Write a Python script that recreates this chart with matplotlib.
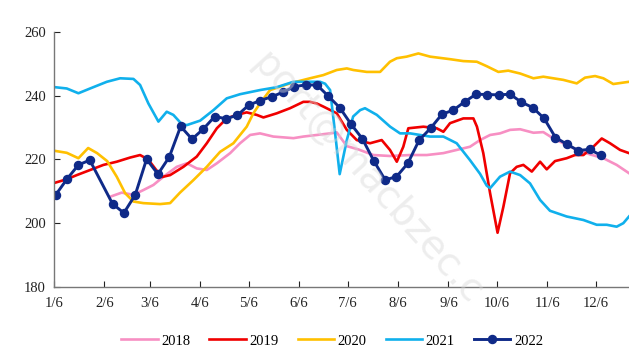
import matplotlib.pyplot as plt

# x positions are day-of-year; ticks mark the 6th of every month
month_days = [6, 37, 65, 96, 126, 157, 187, 218, 249, 279, 310, 340]
month_labels = ["1/6", "2/6", "3/6", "4/6", "5/6", "6/6",
                "7/6", "8/6", "9/6", "10/6", "11/6", "12/6"]

days_2018 = [40.5, 47.7, 54.9, 61.0, 67.2, 73.4, 81.6, 87.8, 93.9, 100.1,
             106.3, 114.5, 120.6, 126.8, 132.9, 141.1, 153.5, 159.6, 167.9, 176.1,
             180.2, 186.4, 193.3, 202.8, 213.0, 225.4, 235.7, 245.9, 254.1, 262.3,
             268.5, 274.7, 280.8, 287.0, 293.2, 301.4, 307.5, 313.7, 319.8, 328.1,
             336.3, 344.5, 352.7, 360.3]
vals_2018 = [208.3, 209.6, 208.9, 210.4, 212.0, 214.6, 217.7, 218.8, 217.2, 216.7,
             218.8, 222.0, 225.1, 227.7, 228.2, 227.2, 226.7, 227.2, 227.7, 228.2,
             228.5, 224.2, 223.2, 221.4, 221.1, 221.4, 221.4, 222.0, 223.0, 224.0,
             226.1, 227.7, 228.2, 229.3, 229.5, 228.4, 228.6, 226.6, 225.1, 223.1,
             221.6, 220.4, 218.3, 215.7]

days_2019 = [6.6, 13.8, 20.0, 28.2, 36.4, 44.6, 52.8, 59.0, 64.0, 68.8,
             72.5, 77.5, 85.7, 93.9, 100.1, 106.3, 112.4, 118.6, 124.7, 130.9,
             135.0, 143.2, 151.4, 159.6, 163.7, 167.8, 172.0, 180.2, 186.4, 192.5,
             200.7, 207.9, 213.0, 217.2, 221.2, 224.3, 233.6, 241.8, 245.9, 250.0,
             258.2, 264.4, 266.6, 270.5, 274.7, 279.3, 282.9, 287.0, 291.1, 295.2,
             300.4, 305.5, 309.6, 314.7, 321.9, 327.0, 332.2, 338.3, 343.5, 348.6,
             354.8, 360.3]
vals_2019 = [212.7, 213.8, 215.1, 216.7, 218.3, 219.3, 220.6, 221.4, 220.0, 216.8,
             214.5, 215.1, 217.7, 220.9, 225.1, 229.8, 232.9, 234.0, 234.8, 234.0,
             233.2, 234.5, 236.1, 238.1, 238.1, 237.6, 236.6, 234.5, 229.3, 226.1,
             225.1, 226.1, 223.0, 219.3, 224.0, 229.8, 230.3, 229.8, 228.7, 231.4,
             232.9, 232.9, 230.3, 222.0, 209.4, 197.0, 205.2, 215.7, 217.7, 218.3,
             216.2, 219.3, 216.9, 219.5, 220.4, 221.4, 221.4, 224.0, 226.6, 225.1,
             223.0, 222.0]

days_2020 = [6.6, 13.8, 21.0, 27.0, 32.5, 38.7, 44.6, 49.8, 54.9, 61.0,
             71.3, 77.5, 83.6, 91.8, 100.1, 108.3, 116.5, 124.7, 128.8, 132.9,
             139.1, 151.4, 163.7, 171.9, 180.2, 186.4, 190.4, 198.7, 206.9, 213.0,
             217.2, 223.3, 230.5, 237.7, 250.0, 258.2, 266.5, 272.6, 279.8, 285.9,
             293.2, 301.4, 307.5, 319.8, 328.1, 333.2, 339.4, 344.5, 350.6, 360.3]
vals_2020 = [222.7, 222.1, 220.4, 223.6, 222.0, 219.5, 214.6, 209.4, 206.8, 206.3,
             206.0, 206.3, 209.6, 213.5, 217.7, 222.4, 225.1, 230.3, 234.5, 237.6,
             241.8, 243.9, 245.5, 246.5, 248.1, 248.6, 248.1, 247.5, 247.5, 250.7,
             251.8, 252.3, 253.3, 252.3, 251.5, 250.9, 250.7, 249.3, 247.5, 247.9,
             247.0, 245.5, 246.0, 245.0, 243.9, 245.7, 246.2, 245.5, 243.7, 244.4]

days_2021 = [6.6, 13.8, 21.0, 28.2, 38.5, 46.7, 54.9, 59.0, 64.1, 70.3,
             75.4, 79.5, 84.7, 87.8, 96.0, 104.2, 112.4, 120.6, 132.9, 143.2,
             153.5, 159.6, 169.9, 173.0, 176.1, 179.2, 182.0, 186.4, 190.3, 194.6,
             197.6, 204.9, 213.1, 219.2, 225.4, 237.7, 245.9, 254.1, 262.3, 268.5,
             272.6, 274.7, 280.8, 287.0, 293.2, 299.3, 305.5, 311.6, 321.9, 332.2,
             340.4, 346.6, 352.7, 356.8, 360.3]
vals_2021 = [242.7, 242.3, 240.8, 242.3, 244.4, 245.5, 245.3, 243.4, 237.6, 231.9,
             235.0, 234.0, 231.1, 230.8, 232.2, 235.5, 239.2, 240.5, 241.8, 242.7,
             244.4, 244.4, 244.4, 243.8, 241.8, 228.2, 215.4, 226.1, 233.5, 235.5,
             236.1, 234.0, 230.3, 228.2, 228.2, 227.2, 227.2, 225.1, 219.8, 215.5,
             211.8, 211.0, 214.6, 216.2, 215.1, 212.5, 207.3, 203.9, 202.1, 201.0,
             199.5, 199.5, 198.9, 200.0, 202.1]

# weekly prices for 2022 (no quote in the Spring Festival week)
days_2022 = [7, 14, 21, 28, 42, 49, 56, 63, 70, 77,
             84, 91, 98, 105, 112, 119, 126, 133, 140, 147,
             154, 161, 168, 175, 182, 189, 196, 203, 210, 217,
             224, 231, 238, 245, 252, 259, 266, 273, 280, 287,
             294, 301, 308, 315, 322, 329, 336, 343]
vals_2022 = [208.9, 213.9, 218.3, 219.8, 206.1, 203.2, 208.9, 220.1, 215.4, 220.8,
             230.4, 226.4, 229.6, 233.5, 232.8, 233.9, 237.1, 238.5, 239.7, 241.1,
             242.9, 243.4, 243.4, 239.9, 236.3, 231.1, 226.5, 219.6, 213.6, 214.6,
             218.8, 226.1, 229.8, 234.2, 235.5, 238.1, 240.5, 240.4, 240.3, 240.5,
             238.0, 236.3, 232.9, 226.9, 224.8, 222.8, 223.2, 221.3]

plt.rcParams["font.family"] = ["Liberation Serif", "DejaVu Serif"]

fig = plt.figure(figsize=(6.29, 3.49), dpi=100)
ax = fig.add_axes([0.086, 0.178, 0.914, 0.73])

lw = 1.9
ax.plot(days_2018, vals_2018, color="#F78FC3", lw=lw, label="2018")
ax.plot(days_2019, vals_2019, color="#F00000", lw=lw, label="2019")
ax.plot(days_2020, vals_2020, color="#FFC000", lw=lw, label="2020")
ax.plot(days_2021, vals_2021, color="#10B0EC", lw=lw, label="2021")
ax.plot(days_2022, vals_2022, color="#0F2A88", lw=2.1, marker="o",
        markersize=5.8, label="2022")

ax.set_xlim(6, 360.3)
ax.set_ylim(180, 260)
ax.set_yticks([180, 200, 220, 240, 260])
ax.set_xticks(month_days)
ax.set_xticklabels(month_labels)
ax.tick_params(axis="both", direction="in", labelsize=10.5, colors="#222222",
               length=4, width=0.8)
ax.tick_params(axis="x", pad=7)
ax.tick_params(axis="y", pad=6)
for side in ["top", "right"]:
    ax.spines[side].set_visible(False)
for side in ["left", "bottom"]:
    ax.spines[side].set_color("#777777")
    ax.spines[side].set_linewidth(1.0)

fig.legend(loc="center", bbox_to_anchor=(0.528, 0.023), ncol=5, frameon=False,
           fontsize=10.5, handlelength=2.5, handletextpad=0.25, columnspacing=1.3)

# faint diagonal watermark
fig.text(0.585, 0.49, "port@macbzec.c", rotation=-48, ha="center", va="center",
         rotation_mode="anchor", fontsize=28, color="#d8d8d8", alpha=0.45,
         family="DejaVu Sans", zorder=0)

fig.savefig("out.png", dpi=100)
